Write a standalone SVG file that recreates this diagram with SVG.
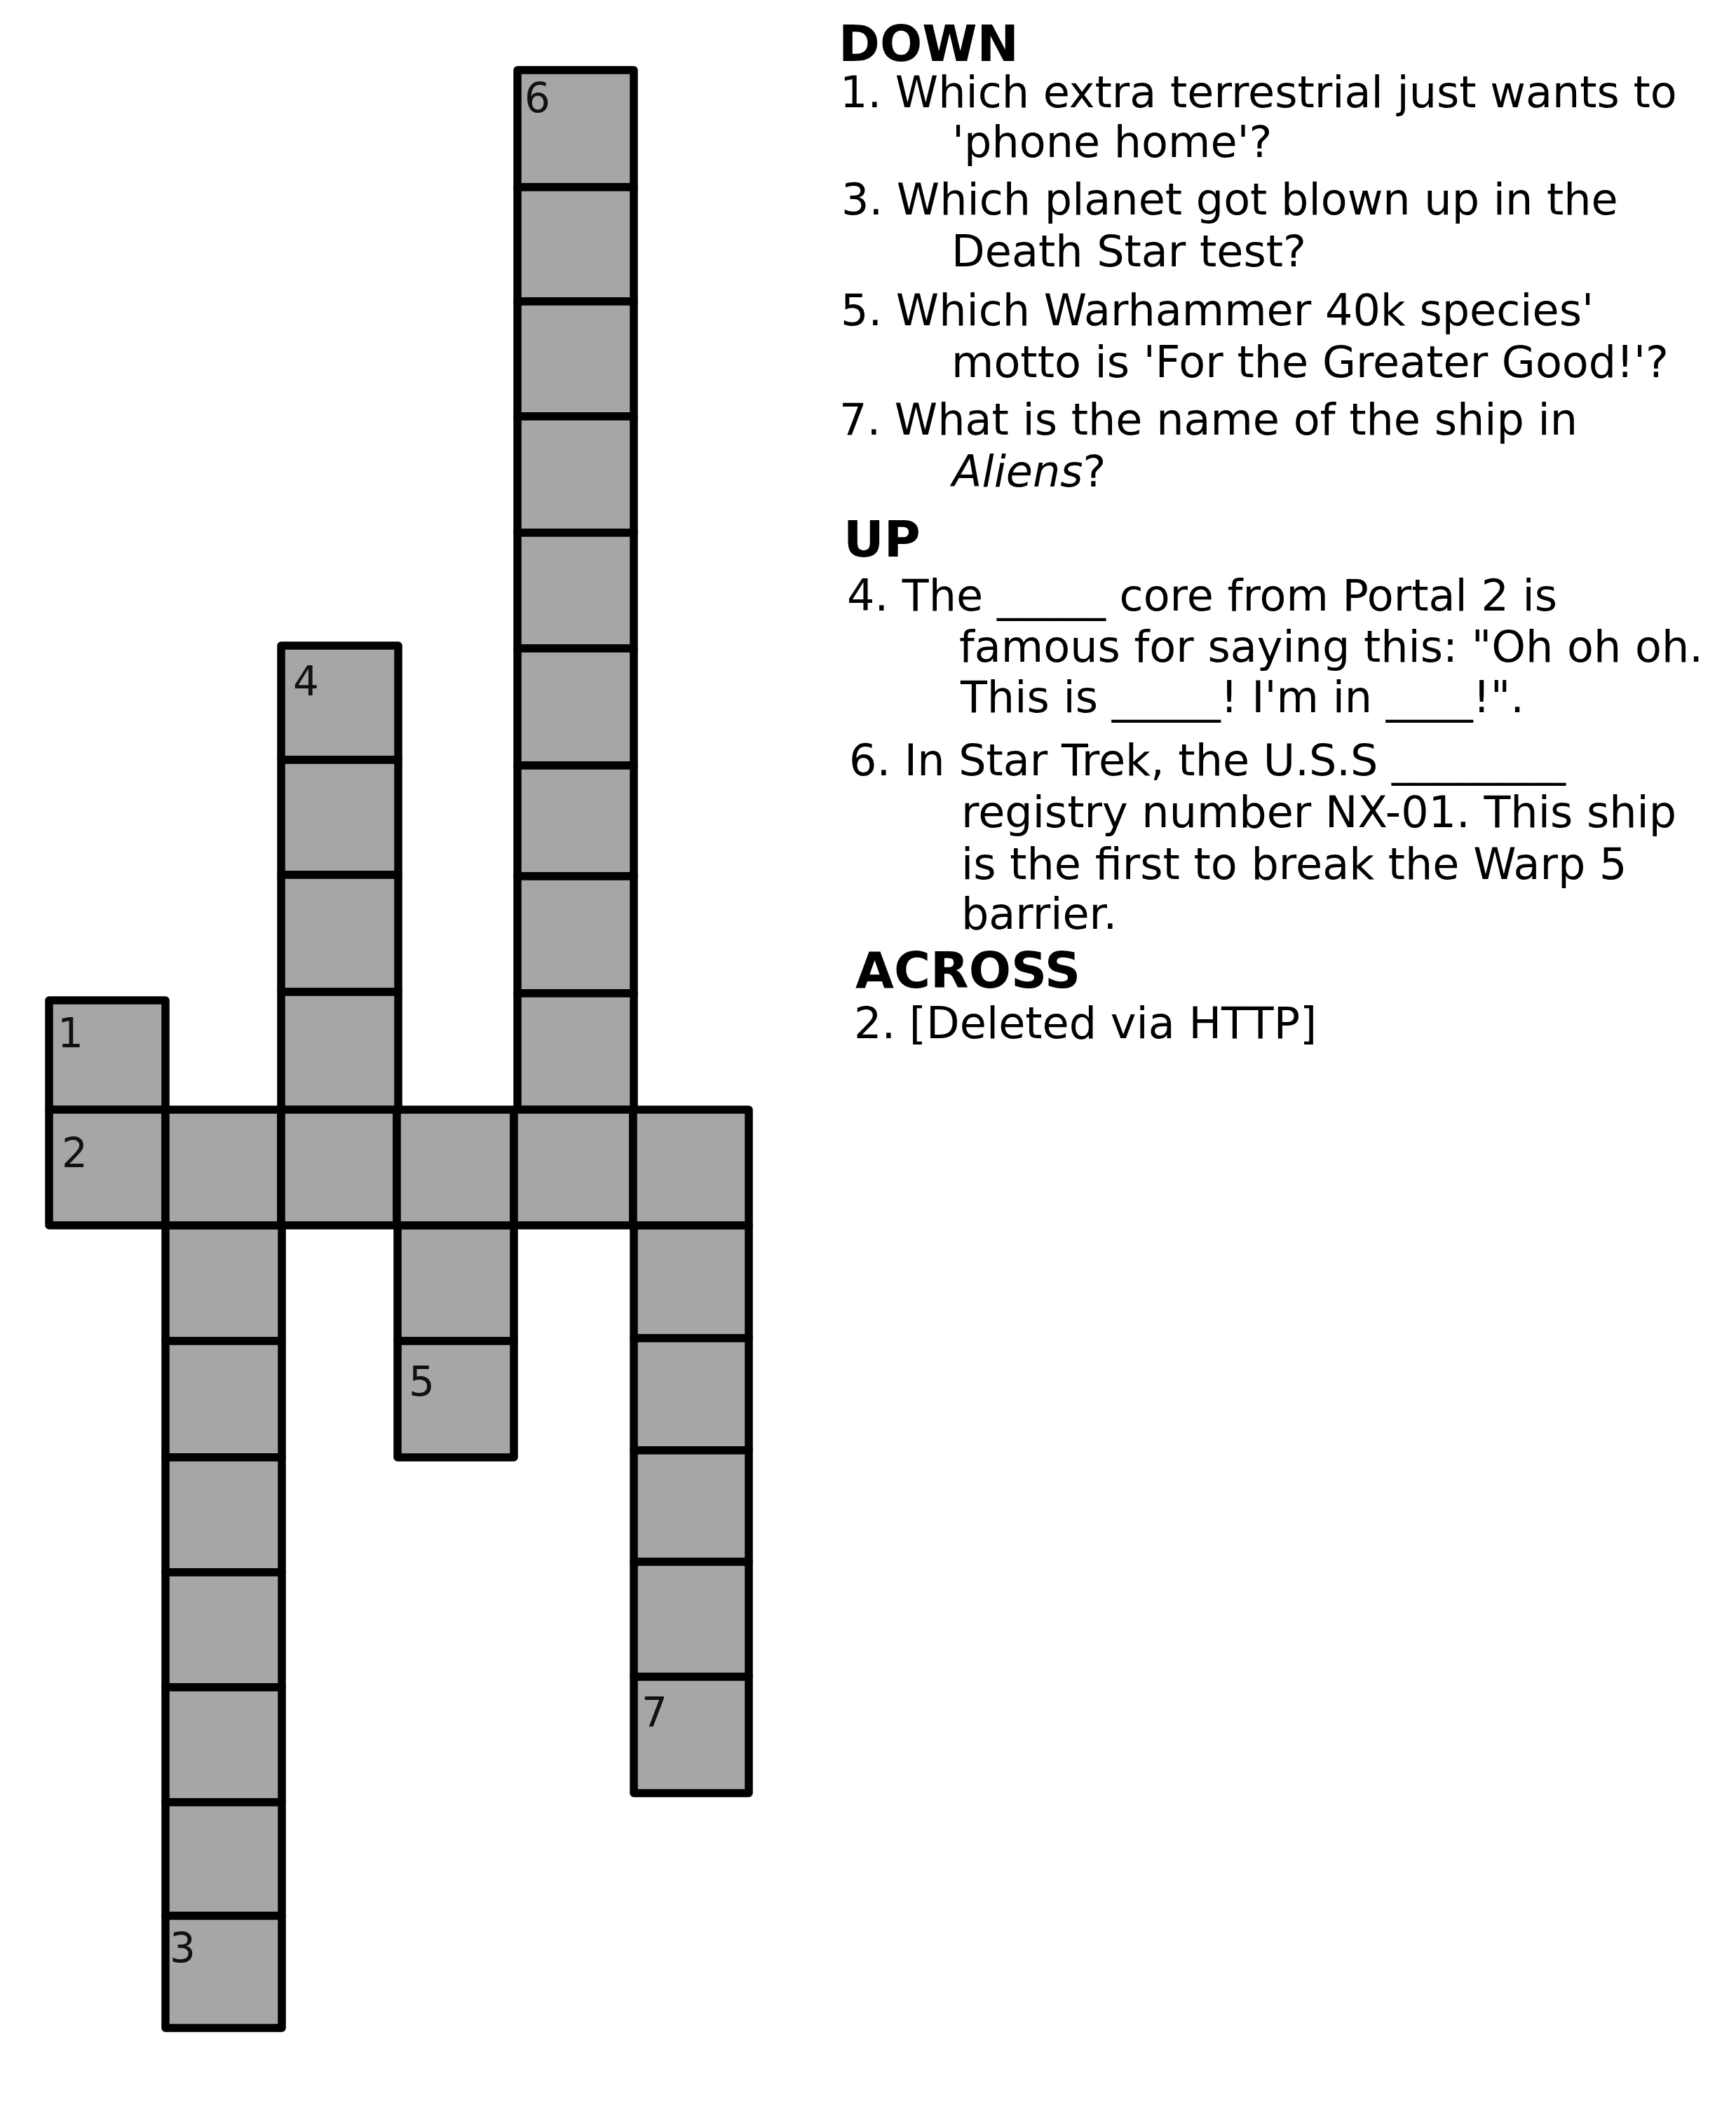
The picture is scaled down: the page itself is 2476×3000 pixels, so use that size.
<svg xmlns="http://www.w3.org/2000/svg" width="2476" height="3000" viewBox="0 0 2476 3000">
<style>
.c{fill:#a6a6a6;stroke:#000;stroke-width:11.5;stroke-linejoin:round}
.n{font-family:"DejaVu Sans","Liberation Sans",sans-serif;font-size:58px;fill:#111}
.t{font-family:"DejaVu Sans","Liberation Sans",sans-serif;font-size:62px;fill:#000}
.h{font-family:"DejaVu Sans","Liberation Sans",sans-serif;font-size:71px;font-weight:bold;fill:#000}
</style>
<rect width="2476" height="3000" fill="#fff"/>
<g id="word-6">
<rect class="c" x="738" y="100" width="166" height="167"/>
<rect class="c" x="738" y="267" width="166" height="163"/>
<rect class="c" x="738" y="430" width="166" height="164"/>
<rect class="c" x="738" y="594" width="166" height="166"/>
<rect class="c" x="738" y="760" width="166" height="165"/>
<rect class="c" x="738" y="925" width="166" height="167"/>
<rect class="c" x="738" y="1092" width="166" height="158"/>
<rect class="c" x="738" y="1250" width="166" height="167"/>
<rect class="c" x="738" y="1417" width="166" height="166"/>
<text class="n" x="748" y="160">6</text>
</g>
<g id="word-4">
<rect class="c" x="401" y="921" width="167" height="163"/>
<rect class="c" x="401" y="1084" width="167" height="164"/>
<rect class="c" x="401" y="1248" width="167" height="167"/>
<rect class="c" x="401" y="1415" width="167" height="168"/>
<text class="n" x="418" y="992">4</text>
</g>
<g id="word-1">
<rect class="c" x="70" y="1427" width="166" height="156"/>
<text class="n" x="82" y="1494">1</text>
</g>
<g id="word-3">
<rect class="c" x="236" y="1748" width="166" height="165"/>
<rect class="c" x="236" y="1913" width="166" height="166"/>
<rect class="c" x="236" y="2079" width="166" height="164"/>
<rect class="c" x="236" y="2243" width="166" height="164"/>
<rect class="c" x="236" y="2407" width="166" height="164"/>
<rect class="c" x="236" y="2571" width="166" height="162"/>
<rect class="c" x="236" y="2733" width="166" height="160"/>
<text class="n" x="242" y="2799">3</text>
</g>
<g id="word-5">
<rect class="c" x="567" y="1748" width="166" height="165"/>
<rect class="c" x="567" y="1913" width="166" height="166"/>
<text class="n" x="583" y="1991">5</text>
</g>
<g id="word-7">
<rect class="c" x="904" y="1748" width="164" height="161"/>
<rect class="c" x="904" y="1909" width="164" height="160"/>
<rect class="c" x="904" y="2069" width="164" height="159"/>
<rect class="c" x="904" y="2228" width="164" height="164"/>
<rect class="c" x="904" y="2392" width="164" height="166"/>
<text class="n" x="915" y="2463">7</text>
</g>
<g id="word-2">
<rect class="c" x="70" y="1583" width="166" height="165"/>
<rect class="c" x="236" y="1583" width="165" height="165"/>
<rect class="c" x="401" y="1583" width="165" height="165"/>
<rect class="c" x="566" y="1583" width="167" height="165"/>
<rect class="c" x="733" y="1583" width="170" height="165"/>
<rect class="c" x="903" y="1583" width="165" height="165"/>
<text class="n" x="88" y="1665">2</text>
</g>
<g id="clues">
<text class="h" x="1196" y="87">DOWN</text>
<text class="t" x="1198" y="153">1. Which extra terrestrial just wants to</text>
<text class="t" x="1358" y="224">'phone home'?</text>
<text class="t" x="1200" y="306">3. Which planet got blown up in the</text>
<text class="t" x="1357" y="380">Death Star test?</text>
<text class="t" x="1199" y="464">5. Which Warhammer 40k species'</text>
<text class="t" x="1357" y="538">motto is 'For the Greater Good!'?</text>
<text class="t" x="1197" y="620">7. What is the name of the ship in</text>
<text class="t" x="1358" y="694"><tspan font-style="italic">Aliens</tspan>?</text>
<text class="h" x="1203" y="794">UP</text>
<text class="t" x="1208" y="871">4. The _____ core from Portal 2 is</text>
<text class="t" x="1368" y="944">famous for saying this: "Oh oh oh.</text>
<text class="t" x="1370" y="1016">This is _____! I'm in ____!".</text>
<text class="t" x="1211" y="1106">6. In Star Trek, the U.S.S ________</text>
<text class="t" x="1371" y="1180">registry number NX-01. This ship</text>
<text class="t" x="1371" y="1254">is the first to break the Warp 5</text>
<text class="t" x="1371" y="1325">barrier.</text>
<text class="h" x="1220" y="1409">ACROSS</text>
<text class="t" x="1218" y="1481">2. [Deleted via HTTP]</text>
</g>
</svg>
